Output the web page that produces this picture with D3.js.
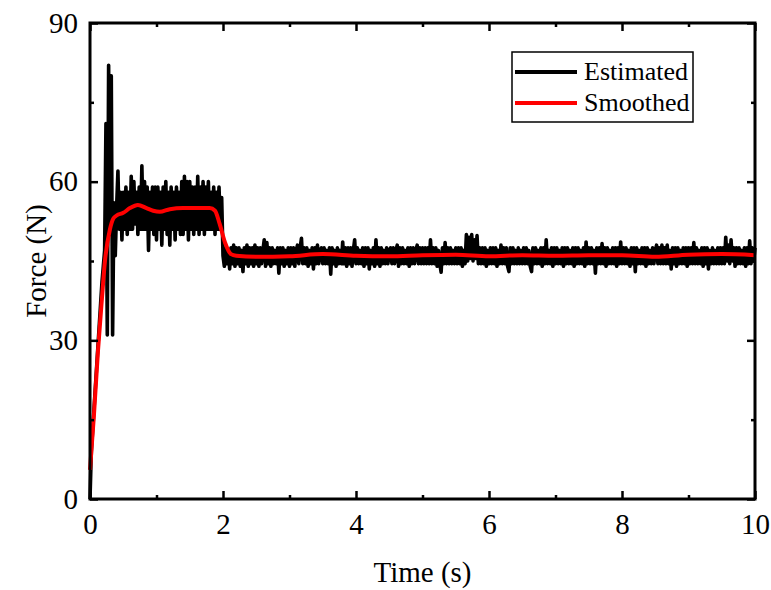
<!DOCTYPE html>
<html>
<head>
<meta charset="utf-8">
<script src="https://cdn.jsdelivr.net/npm/d3@7"></script>
<style>
  body { margin: 0; background: #fff; }
  svg, svg text { display: block; font-family: "Liberation Serif", "Times New Roman", serif; }
</style>
</head>
<body>
<div id="chart"></div>
<script>
// sampling step of the estimated force signal (s)
const sampleStep = 0.02;

// estimated force, one value per sample (N)
const estimatedForce = [
  // 0 - 0.36 s : ramp and the start-up spikes
  0, 9, 13, 17, 21, 25, 29, 33, 37, 41, 44, 47, 71, 31, 82, 50, 80, 31, 56,
  // 0.38 - 2.00 s : first plateau
  46, 55, 62, 51, 58, 49, 58, 51, 59, 50,
  58, 51, 61, 51, 60, 52, 58, 50, 59, 51,
  63, 51, 60, 51, 59, 47, 58, 51, 59, 50,
  59, 49, 59, 51, 58, 48, 59, 51, 60, 50,
  58, 48, 59, 51, 58, 49, 59, 51, 58, 50,
  60, 50, 61, 51, 60, 49, 60, 51, 59, 50,
  59, 51, 61, 50, 59, 51, 60, 50, 59, 51,
  60, 51, 58, 51, 59, 50, 58, 51, 59, 51,
  57, 46,
  // 2.02 - 10.00 s : steady part
  44, 47.5, 44.5, 47, 43.5, 47.5, 44.5, 48, 44, 47.5, 44.5, 47.5, 44, 47, 43, 47.5, 44.5, 48, 44, 47.5, 44.5, 47.5, 44, 48, 44.5,
  47.5, 44, 47.5, 44.5, 47, 49, 44, 48.5, 44.5, 47.5, 44, 47.5, 44.5, 47, 44.5, 47.5, 42.7, 47.5, 44.5, 47.5, 44, 47, 44.5, 47.5, 44,
  47.5, 44.5, 47.5, 44, 47, 48, 44.5, 47.5, 49.3, 44.5, 47.5, 44.5, 47.5, 44, 47, 44.5, 47.5, 43.5, 47.5, 44.5, 48, 44.5, 47, 47.5, 44.5,
  47.5, 44.5, 47, 44.5, 47.5, 42.5, 47.5, 44.5, 47, 44, 47.5, 44.5, 47, 44.5, 48.6, 44.5, 47.5, 44, 47.5, 44.5, 47.5, 44, 47, 49, 44.5,
  47.5, 44.5, 47, 44.5, 47.5, 44, 47.5, 44.5, 47.5, 43.5, 47, 44.5, 47.5, 44, 49, 44.5, 47.5, 44, 47.5, 44.5, 47, 44.5, 47.5, 44.5, 47,
  47.5, 44.5, 47.5, 44.5, 47, 48, 44, 47.5, 44.5, 47.5, 44.5, 47, 44.5, 47.5, 44, 47.5, 44.5, 47.5, 44.5, 47, 48, 44.5, 47.5, 44.5, 47.5,
  44.5, 47.5, 44.5, 47.5, 44.5, 49, 44.5, 47.5, 44.5, 47.5, 44, 47, 44.5, 42.9, 47.5, 44.5, 48.5, 44.5, 47.5, 44.5, 47.5, 44.5, 47, 44.5, 47.5,
  44.5, 47.5, 44.5, 47.5, 44, 47, 44.5, 50, 45, 49.5, 45.5, 50, 45, 49, 45.5, 49.8, 44.5, 47.5, 44.5, 47.5, 44.5, 47.5, 44, 47, 44.5,
  47.5, 44.5, 47.5, 44.5, 47.5, 44, 47, 44.5, 48, 44.5, 47.5, 44.5, 47.5, 44, 43, 47.5, 44.5, 47.5, 44.5, 47, 44.5, 47.5, 44.5, 47, 44.5,
  47.5, 44.5, 47.5, 44.5, 47, 44, 43, 47.5, 44.5, 47.5, 44.5, 47, 44.5, 47.5, 44, 47.5, 44.5, 49, 44.5, 47, 44.5, 47.5, 44, 47.5, 44.5,
  47.5, 44.5, 47, 44.5, 47.5, 44, 47.5, 44.5, 47.5, 44.5, 47, 44.5, 47.5, 44, 47.5, 44.5, 47.5, 44.5, 47, 44.5, 47.5, 44, 48.6, 44.5, 47.5,
  44.5, 47.5, 44.5, 47, 42.7, 47.5, 44.5, 47.5, 44.5, 48.3, 44.5, 47.5, 44, 47.5, 44.5, 47, 44.5, 47.5, 44.5, 47.5, 44, 47.5, 44.5, 48.6, 44.5,
  47.5, 44.5, 47.5, 44.5, 47, 44, 47.5, 44.5, 47.5, 43, 47.5, 44.5, 47, 44.5, 47.5, 44.5, 47.5, 44, 47.5, 44.5, 47, 44.5, 47.5, 44.5, 47,
  48, 44.5, 47.5, 44.5, 48, 44.5, 47.5, 44.5, 48, 44.5, 47, 43.5, 47.5, 44.5, 47.5, 44, 47.5, 44.5, 47, 44.5, 47.5, 44.5, 47.5, 44, 47.5,
  44.5, 47.5, 44.5, 48.5, 44.5, 47.5, 44.5, 47, 44.5, 47.5, 44, 47.5, 44.5, 47.5, 43.5, 47, 44.5, 47.5, 44.5, 47, 44.5, 47.5, 44.5, 47.5, 44.5,
  47.5, 44.5, 49.5, 45, 48, 44.5, 49, 45, 47.5, 44, 47.5, 44.5, 47.5, 44.5, 47, 44.5, 47.5, 44, 47.5, 44.5, 48.8, 44.5, 47.5, 45, 47.5
];

// smoothed force: times (s) and values (N)
const smoothTime = [0, 0.06, 0.12, 0.18, 0.225, 0.3, 0.35, 0.4, 0.5, 0.6, 0.72, 0.85, 0.95, 1.05, 1.2, 1.4, 1.6, 1.8, 1.88, 1.95, 2.03, 2.12, 2.2,
  2.5, 3, 3.5, 4, 4.5, 5, 5.5, 6, 6.5, 7, 7.5, 8, 8.5, 9, 9.5, 10];
const smoothForce = [5.5, 16, 28, 38, 45, 51, 53, 53.6, 54.1, 55, 55.6, 55, 54.5, 54.3, 54.8, 55, 55, 55, 54.5, 52, 48.5, 46.3, 46,
  45.8, 45.9, 46.3, 46, 45.9, 46.1, 46.2, 45.9, 46.1, 46, 46.1, 46.1, 45.8, 46.2, 46.3, 46.1];

// axes
const xTicks = [0, 2, 4, 6, 8, 10];
const xMinor = [1, 3, 5, 7, 9];
const yTicks = [0, 30, 60, 90];
const yMinor = [15, 45, 75];

const seriesNames = ["Estimated", "Smoothed"];
const seriesColors = ["#000000", "#ff0000"];

let width = 771;
let height = 590;
let margin = {top: 23, right: 16, bottom: 91, left: 90};
let innerW = width - margin.left - margin.right;
let innerH = height - margin.top - margin.bottom;
let serif = "'Liberation Serif', 'Times New Roman', serif";

let svg = d3.select("#chart")
    .append("svg")
    .attr("width", width)
    .attr("height", height);

let g = svg.append("g")
    .attr("transform", "translate(" + margin.left + "," + margin.top + ")");

let x = d3.scaleLinear().domain([0, 10]).range([0, innerW]);
let y = d3.scaleLinear().domain([0, 90]).range([innerH, 0]);

// data lines
let estData = estimatedForce.map((v, i) => ({t: i * sampleStep, f: v}));
let smoothData = smoothTime.map((t, i) => ({t: t, f: smoothForce[i]}));

let line = d3.line()
    .x(d => x(d.t))
    .y(d => y(d.f));

g.append("path")
    .datum(estData)
    .attr("d", line)
    .attr("fill", "none")
    .attr("stroke", seriesColors[0])
    .attr("stroke-width", 3.6)
    .attr("stroke-linejoin", "round");

g.append("path")
    .datum(smoothData)
    .attr("d", line.curve(d3.curveMonotoneX))
    .attr("fill", "none")
    .attr("stroke", seriesColors[1])
    .attr("stroke-width", 4)
    .attr("stroke-linejoin", "round");

// axes with inward ticks (major and minor) on all four sides
function drawAxis(axisGen, transform) {
    let a = g.append("g").attr("transform", transform).call(axisGen);
    a.attr("font-family", serif);
    a.select(".domain").remove();
    a.selectAll("line").attr("stroke", "#000").attr("stroke-width", 2.5);
    a.selectAll("text")
        .style("font-family", serif)
        .style("font-size", "29px")
        .attr("fill", "#000");
    return a;
}

drawAxis(d3.axisBottom(x).tickValues(xTicks).tickSize(-8).tickPadding(14).tickFormat(d3.format("d")), "translate(0," + innerH + ")");
drawAxis(d3.axisBottom(x).tickValues(xMinor).tickSize(-4).tickFormat(""), "translate(0," + innerH + ")");
drawAxis(d3.axisTop(x).tickValues(xTicks).tickSize(-8).tickFormat(""), "translate(0,0)");
drawAxis(d3.axisTop(x).tickValues(xMinor).tickSize(-4).tickFormat(""), "translate(0,0)");
drawAxis(d3.axisLeft(y).tickValues(yTicks).tickSize(-8).tickPadding(12).tickFormat(d3.format("d")), "translate(0,0)");
drawAxis(d3.axisLeft(y).tickValues(yMinor).tickSize(-4).tickFormat(""), "translate(0,0)");
drawAxis(d3.axisRight(y).tickValues(yTicks).tickSize(-8).tickFormat(""), "translate(" + innerW + ",0)");
drawAxis(d3.axisRight(y).tickValues(yMinor).tickSize(-4).tickFormat(""), "translate(" + innerW + ",0)");

// frame
g.append("rect")
    .attr("width", innerW)
    .attr("height", innerH)
    .attr("fill", "none")
    .attr("stroke", "#000")
    .attr("stroke-width", 3);

// axis titles
svg.append("text")
    .attr("x", margin.left + innerW / 2)
    .attr("y", 582)
    .attr("text-anchor", "middle")
    .style("font-size", "29px")
    .text("Time (s)");

svg.append("text")
    .attr("transform", "translate(46," + (margin.top + innerH / 2) + ") rotate(-90)")
    .attr("text-anchor", "middle")
    .style("font-size", "29px")
    .text("Force (N)");

// legend
let legend = svg.append("g").attr("transform", "translate(512,52)");
legend.append("rect")
    .attr("width", 181)
    .attr("height", 70)
    .attr("fill", "#fff")
    .attr("stroke", "#000")
    .attr("stroke-width", 1.5);

legend.selectAll("line.key")
    .data(seriesNames)
    .enter()
    .append("line")
    .attr("x1", 3)
    .attr("x2", 65)
    .attr("y1", (d, i) => 20 + i * 31)
    .attr("y2", (d, i) => 20 + i * 31)
    .attr("stroke", (d, i) => seriesColors[i])
    .attr("stroke-width", 4);

legend.selectAll("text.key")
    .data(seriesNames)
    .enter()
    .append("text")
    .attr("x", 72)
    .attr("y", (d, i) => 28 + i * 31)
    .style("font-size", "26px")
    .text(d => d);
</script>
</body>
</html>
